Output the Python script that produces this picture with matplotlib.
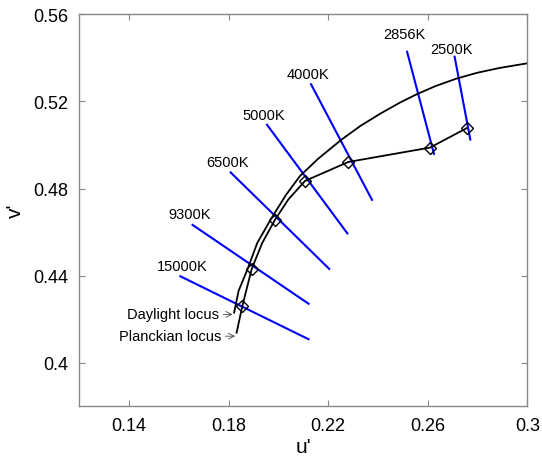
import matplotlib.pyplot as plt

plt.rcParams['font.family'] = ['Liberation Sans', 'DejaVu Sans']

# ── Data (CIE 1976 u'v') ────────────────────────────────────────────────────
# outer curve: runs up beside the inner one, then continues as the upper branch
outer_u = [0.1822, 0.1840, 0.1876, 0.1915, 0.1970, 0.2030, 0.2087, 0.2160,
           0.2254, 0.2330, 0.2408, 0.2489, 0.2556, 0.2630, 0.2716, 0.2800,
           0.2890, 0.3000]
outer_v = [0.4230, 0.4330, 0.4430, 0.4550, 0.4660, 0.4770, 0.4858, 0.4937,
           0.5025, 0.5088, 0.5143, 0.5195, 0.5233, 0.5270, 0.5305, 0.5332,
           0.5354, 0.5375]

# inner curve (through the diamond markers)
inner_u = [0.1832, 0.1855, 0.1893, 0.1935, 0.1986, 0.2040, 0.2107, 0.2281, 0.2609, 0.2756]
inner_v = [0.4138, 0.4260, 0.4432, 0.4550, 0.4656, 0.4750, 0.4835, 0.4922, 0.4988, 0.5077]

# diamond markers
mark_u = [0.1855, 0.1893, 0.1986, 0.2107, 0.2281, 0.2609, 0.2756]
mark_v = [0.4260, 0.4432, 0.4656, 0.4835, 0.4922, 0.4988, 0.5077]

# iso-temperature lines (blue), start/end points and label positions
iso_labels = ["15000K", "9300K", "6500K", "5000K", "4000K", "2856K", "2500K"]
iso_u1 = [0.1606, 0.1655, 0.1808, 0.1954, 0.2131, 0.2517, 0.2708]
iso_v1 = [0.4397, 0.4633, 0.4874, 0.5093, 0.5279, 0.5428, 0.5405]
iso_u2 = [0.2121, 0.2121, 0.2204, 0.2277, 0.2376, 0.2625, 0.2771]
iso_v2 = [0.4108, 0.4271, 0.4431, 0.4594, 0.4748, 0.4959, 0.5025]
lab_u = [0.1613, 0.1645, 0.1794, 0.1940, 0.2118, 0.2508, 0.2694]
lab_v = [0.4444, 0.4682, 0.4920, 0.5139, 0.5328, 0.5508, 0.5440]

xticks = [0.14, 0.18, 0.22, 0.26, 0.3]
yticks = [0.4, 0.44, 0.48, 0.52, 0.56]

# ── Figure ─────────────────────────────────────────────────────────────────
fig = plt.figure(figsize=(5.42, 4.6), dpi=100)
ax = fig.add_axes([0.1463, 0.1146, 0.8266, 0.8521])

for i, lab in enumerate(iso_labels):
    ax.plot([iso_u1[i], iso_u2[i]], [iso_v1[i], iso_v2[i]],
            color="#0000ff", lw=1.5, zorder=2)
    ax.text(lab_u[i], lab_v[i], lab, ha="center", va="center", fontsize=10.5)

ax.plot(outer_u, outer_v, color="black", lw=1.3, zorder=3)
ax.plot(inner_u, inner_v, color="black", lw=1.3, zorder=3)
ax.plot(mark_u, mark_v, ls="none", marker="D", markersize=6,
        markerfacecolor="none", markeredgecolor="black", mew=1.0, zorder=4)

ax.annotate("Daylight locus", xy=(0.1816, 0.4222), xytext=(0.1762, 0.4222),
            ha="right", va="center", fontsize=10.5,
            arrowprops=dict(arrowstyle="->", color="#444444", lw=0.6,
                            shrinkA=1, shrinkB=0))
ax.annotate("Planckian locus", xy=(0.1826, 0.4122), xytext=(0.1770, 0.4122),
            ha="right", va="center", fontsize=10.5,
            arrowprops=dict(arrowstyle="->", color="#444444", lw=0.6,
                            shrinkA=1, shrinkB=0))

ax.set_xlim(0.12, 0.3)
ax.set_ylim(0.38, 0.56)
ax.set_xticks(xticks)
ax.set_xticklabels(["0.14", "0.18", "0.22", "0.26", "0.3"])
ax.set_yticks(yticks)
ax.set_yticklabels(["0.4", "0.44", "0.48", "0.52", "0.56"])
ax.tick_params(direction="in", length=4, width=0.8, color="#888888",
               labelsize=13, top=True, right=True, pad=8)

for side in ["top", "right", "left", "bottom"]:
    ax.spines[side].set_color("#888888")
    ax.spines[side].set_linewidth(1.0)

ax.set_xlabel("u'", fontsize=15, labelpad=2)
ax.set_ylabel("v'", fontsize=15, labelpad=6)

fig.savefig("out.png", dpi=100, facecolor="white")
